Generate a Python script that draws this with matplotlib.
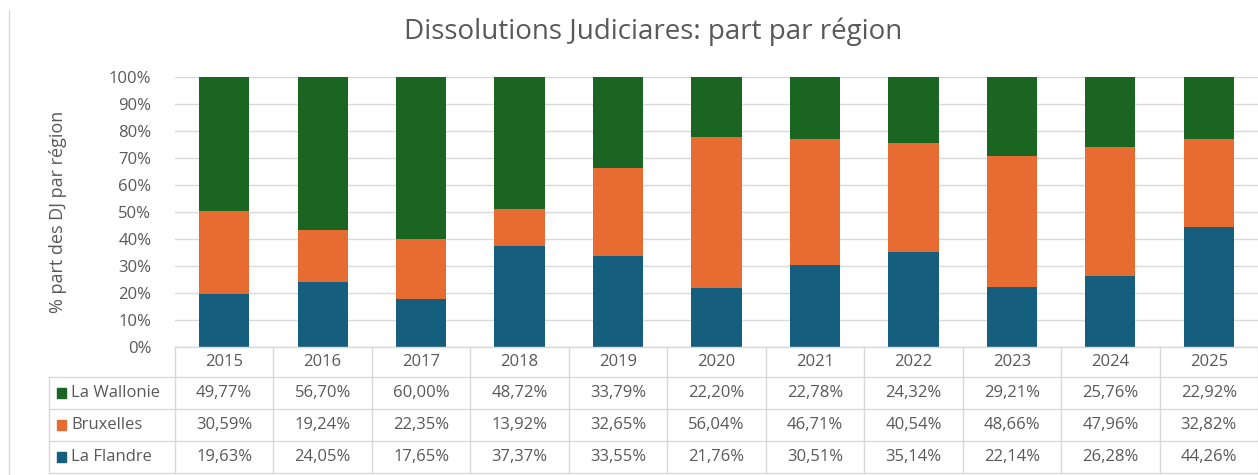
import matplotlib.pyplot as plt
from matplotlib.lines import Line2D
from matplotlib.patches import Rectangle
from matplotlib.transforms import blended_transform_factory

years = ['2015', '2016', '2017', '2018', '2019', '2020', '2021', '2022', '2023', '2024', '2025']
wallonie = [49.77, 56.70, 60.00, 48.72, 33.79, 22.20, 22.78, 24.32, 29.21, 25.76, 22.92]
bruxelles = [30.59, 19.24, 22.35, 13.92, 32.65, 56.04, 46.71, 40.54, 48.66, 47.96, 32.82]
flandre = [19.63, 24.05, 17.65, 37.37, 33.55, 21.76, 30.51, 35.14, 22.14, 26.28, 44.26]
regions = ['La Wallonie', 'Bruxelles', 'La Flandre']

GREEN = '#1b6523'
ORANGE = '#e66c32'
BLUE = '#165e7d'
TXT = '#595959'
GRID = '#d9d9d9'
FS = 12

plt.rcParams['font.family'] = ['Open Sans', 'DejaVu Sans']

W, H = 1258, 475
fig = plt.figure(figsize=(W / 100, H / 100), dpi=100)
ax = fig.add_axes([175 / W, (H - 347) / H, (W - 175) / W, (347 - 77) / H])

x = list(range(len(years)))
bw = 0.51
ax.bar(x, flandre, bw, color=BLUE, zorder=3)
ax.bar(x, bruxelles, bw, bottom=flandre, color=ORANGE, zorder=3)
bottom2 = [a + b for a, b in zip(flandre, bruxelles)]
ax.bar(x, wallonie, bw, bottom=bottom2, color=GREEN, zorder=3)

ax.set_xlim(-0.5, len(years) - 0.5)
ax.set_ylim(0, 100)
ax.set_yticks(range(0, 101, 10))
ax.set_yticklabels([f'{v}%' for v in range(0, 101, 10)], color=TXT, fontsize=FS)
ax.tick_params(axis='y', length=0, pad=17)
ax.set_xticks([])
ax.yaxis.grid(True, color=GRID, linewidth=1, zorder=0)
for s in ax.spines.values():
    s.set_visible(False)

fig.text(58 / W, 1 - 212 / H, '% part des DJ par région', rotation=90,
         ha='center', va='center', color=TXT, fontsize=13)
fig.text(653 / W, 1 - 32 / H, 'Dissolutions Judiciares: part par région',
         ha='center', va='center', color=TXT, fontsize=20)

# data table under the chart
tr = blended_transform_factory(ax.transData, fig.transFigure)
def fy(py):
    return 1 - py / H

row_edges = [347, 377, 409, 441, 473]
left = -0.5 - 126 / 98.5
right = len(years) - 0.5
kw = dict(color=GRID, linewidth=1, transform=tr, clip_on=False)
# horizontal lines
fig.add_artist(Line2D([-0.5, right], [fy(row_edges[0])] * 2, **kw))
for py in row_edges[1:]:
    fig.add_artist(Line2D([left, right], [fy(py)] * 2, **kw))
# vertical lines
for i in range(len(years) + 1):
    fig.add_artist(Line2D([i - 0.5] * 2, [fy(347), fy(473)], **kw))
fig.add_artist(Line2D([left] * 2, [fy(377), fy(473)], **kw))

for i, yr in enumerate(years):
    fig.text(i, fy(362), yr, transform=tr, ha='center', va='center', color=TXT, fontsize=FS)

series = [wallonie, bruxelles, flandre]
colors = [GREEN, ORANGE, BLUE]
for r, (name, vals, col) in enumerate(zip(regions, series, colors)):
    yc = (row_edges[r + 1] + row_edges[r + 2]) / 2
    fig.add_artist(Rectangle((57 / W, fy(yc + 5)), 9 / W, 10 / H, color=col,
                             transform=fig.transFigure))
    fig.text(71 / W, fy(yc), name, ha='left', va='center', color=TXT, fontsize=FS)
    for i, v in enumerate(vals):
        fig.text(i, fy(yc), f'{v:.2f}%'.replace('.', ','), transform=tr,
                 ha='center', va='center', color=TXT, fontsize=FS)

fig.add_artist(Line2D([9 / W] * 2, [fy(10), fy(475)], color=GRID, linewidth=1))

fig.savefig('out.png', dpi=100)
